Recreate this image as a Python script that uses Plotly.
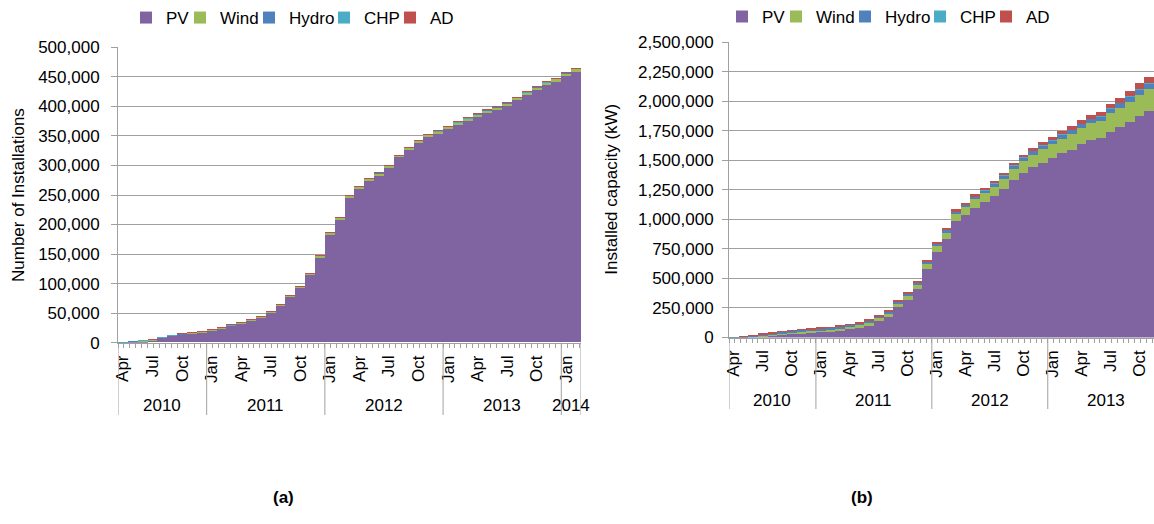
import plotly.graph_objects as go

W, H = 1154, 524

# ---------------- data ----------------
series_names = ["PV", "Wind", "Hydro", "CHP", "AD"]
series_colors = ["#8064A2", "#9BBB59", "#4F81BD", "#4BACC6", "#C0504D"]

# (a) cumulative number of installations, monthly Apr 2010 - Feb 2014
pv_inst = [450, 1200, 2200, 4000, 8000, 10900, 13200, 15400, 17500, 20000,
           23400, 27800, 32000, 36600, 41900, 49800, 62200, 77600, 92500, 114300,
           144100, 183000, 208800, 245600, 260500, 274300, 283200, 296100, 313000, 325900,
           337700, 347600, 353500, 361400, 368300, 375100, 382000, 388900, 393800, 400700,
           409500, 418400, 427300, 435200, 441100, 450400, 457800]
wind_inst = [100, 200, 300, 450, 600, 750, 900, 1000, 1100, 1200,
             1300, 1400, 1500, 1600, 1700, 1800, 1900, 2000, 2100, 2250,
             2400, 2550, 2700, 2850, 3000, 3100, 3200, 3300, 3400, 3500,
             3600, 3700, 3800, 3900, 4000, 4100, 4200, 4300, 4400, 4500,
             4600, 4700, 4800, 4900, 5000, 5100, 5200]
hydro_inst = [30, 50, 70, 90, 110, 130, 150, 160, 170, 180,
              190, 200, 210, 220, 230, 240, 250, 260, 270, 280,
              290, 300, 310, 320, 330, 340, 350, 360, 370, 380,
              390, 400, 410, 420, 430, 440, 450, 460, 470, 480,
              490, 500, 510, 520, 530, 540, 550]
chp_inst = [5, 10, 15, 20, 25, 30, 40, 50, 60, 70,
            80, 90, 100, 110, 120, 130, 140, 150, 160, 170,
            180, 190, 200, 210, 220, 230, 240, 250, 260, 270,
            280, 290, 300, 310, 320, 330, 340, 350, 360, 370,
            380, 390, 400, 410, 420, 430, 440]
ad_inst = [0, 1, 2, 3, 4, 5, 6, 7, 8, 9,
           10, 12, 14, 16, 18, 20, 22, 24, 26, 28,
           30, 33, 36, 39, 42, 45, 48, 51, 54, 57,
           60, 63, 66, 69, 72, 75, 78, 81, 84, 87,
           90, 93, 96, 99, 102, 105, 108]

# (b) cumulative installed capacity (kW), monthly Apr 2010 - Nov 2013
pv_cap = [500, 1500, 5000, 12000, 18000, 25500, 31000, 36500, 40000, 44000,
          48000, 57500, 69500, 82500, 101500, 135500, 172500, 254500, 317500, 409500,
          578000, 725000, 835000, 988000, 1036000, 1098000, 1143000, 1194000, 1256000, 1332000,
          1394000, 1440000, 1480000, 1517000, 1559000, 1590000, 1636000, 1668000, 1684000, 1739000,
          1777000, 1821000, 1874000, 1913000]
wind_cap = [1000, 2000, 5000, 8000, 10000, 12000, 14000, 15000, 16000, 17000,
            18000, 20000, 21000, 22000, 24000, 26000, 28000, 30000, 33000, 36000,
            40000, 46000, 52000, 58000, 64000, 70000, 76000, 82000, 88000, 95000,
            102000, 108000, 113000, 118000, 124000, 130000, 137000, 144000, 150000, 158000,
            166000, 174000, 181000, 188000]
hydro_cap = [500, 2000, 5000, 8000, 10000, 11000, 12000, 13000, 14000, 14500,
             15000, 16000, 16500, 17000, 17500, 18000, 18500, 19000, 19500, 20000,
             21000, 22000, 23000, 24000, 25000, 26000, 27000, 28000, 29000, 30000,
             31000, 32000, 33000, 34000, 35000, 36000, 37000, 38000, 39000, 41000,
             43000, 45000, 47000, 49000]
chp_cap = [0, 0, 0, 5, 10, 15, 20, 25, 30, 35,
           40, 45, 50, 55, 60, 70, 80, 90, 100, 110,
           120, 130, 140, 150, 160, 170, 180, 190, 200, 210,
           220, 230, 240, 250, 260, 270, 280, 290, 300, 310,
           320, 330, 340, 350]
ad_cap = [0, 500, 1000, 2000, 3000, 3500, 4000, 4500, 5000, 5500,
          6000, 6500, 7000, 7500, 8000, 8500, 9000, 9500, 10000, 10500,
          11000, 12000, 13000, 14000, 15000, 16000, 17000, 18000, 19000, 20000,
          21000, 22000, 24000, 26000, 28000, 30000, 32000, 34000, 36000, 39000,
          42000, 45000, 48000, 51000]

quarter_labels_left = ["Apr", "Jul", "Oct", "Jan", "Apr", "Jul", "Oct", "Jan", "Apr", "Jul",
                       "Oct", "Jan", "Apr", "Jul", "Oct", "Jan"]
quarter_labels_right = ["Apr", "Jul", "Oct", "Jan", "Apr", "Jul", "Oct", "Jan", "Apr", "Jul",
                        "Oct", "Jan", "Apr", "Jul", "Oct"]
years_left = ["2010", "2011", "2012", "2013", "2014"]
year_months_left = [9, 12, 12, 12, 2]
years_right = ["2010", "2011", "2012", "2013"]
year_months_right = [9, 12, 12, 12]   # 2013 group is cut at the picture edge

left_series = [pv_inst, wind_inst, hydro_inst, chp_inst, ad_inst]
right_series = [pv_cap, wind_cap, hydro_cap, chp_cap, ad_cap]

# ---------------- helpers ----------------
def fx(p):
    return p / W

def fy(p):
    return 1 - p / H

FONT = "Liberation Sans, Arial, sans-serif"
GRID = "#a0a0a0"
FS = 17
# legend entry widths (px), tuned so the entries sit close together
legend_widths = [9, 24, 30, 21, 26]

fig = go.Figure()

n_left = len(pv_inst)
n_right = len(pv_cap)

for name, vals, col, lw in zip(series_names, left_series, series_colors, legend_widths):
    fig.add_trace(go.Bar(
        x=list(range(len(vals))), y=vals, name=name, width=1,
        marker=dict(color=col, line=dict(width=0)), legendwidth=lw,
        xaxis="x", yaxis="y", legend="legend"))

for name, vals, col, lw in zip(series_names, right_series, series_colors, legend_widths):
    fig.add_trace(go.Bar(
        x=list(range(len(vals))), y=vals, name=name, width=1,
        marker=dict(color=col, line=dict(width=0)), legendwidth=lw,
        xaxis="x2", yaxis="y2", legend="legend2"))

# plot areas (pixels)
L_x0, L_x1, L_top, L_bot = 118, 581, 47.3, 342.7
R_x0, R_x1, R_top, R_bot = 729, 1154, 42.0, 337.5

def xaxis_cfg(x0, x1, n, labels, anchor):
    return dict(
        domain=[fx(x0), fx(x1)], anchor=anchor, automargin=False,
        range=[-0.5, n - 0.5], showgrid=False, zeroline=False,
        showline=True, linecolor=GRID, linewidth=1,
        tickmode="array", tickvals=[3 * i for i in range(len(labels))],
        ticktext=labels, tickangle=-90, ticks="",
        ticklabelstandoff=5,
        tickfont=dict(family=FONT, size=FS, color="#000000"),
        minor=dict(ticks="outside", ticklen=4, tickcolor=GRID, tickwidth=1,
                   tick0=-0.5, dtick=0.6, showgrid=False),
        fixedrange=True)

def yaxis_cfg(top, bot, rmax, step, anchor, standoff):
    return dict(
        domain=[fy(bot), fy(top)], anchor=anchor, automargin=False,
        range=[0, rmax], dtick=step, tick0=0, tickformat=",",
        showgrid=True, gridcolor=GRID, gridwidth=1, zeroline=False,
        showline=True, linecolor=GRID, linewidth=1,
        ticks="outside", ticklen=6, tickcolor=GRID,
        ticklabelstandoff=standoff,
        tickfont=dict(family=FONT, size=FS, color="#000000"),
        fixedrange=True)

legend_common = dict(orientation="h", xanchor="left", yanchor="top",
                     font=dict(family=FONT, size=FS, color="#000000"),
                     itemwidth=30, bgcolor="rgba(0,0,0,0)",
                     traceorder="normal", tracegroupgap=0)

shapes = []
annotations = []

def year_dividers(n_months_list, xref, ytop, ybot, n_total):
    pos = -0.5
    shapes.append(dict(type="line", xref=xref, yref="paper", x0=pos, x1=pos,
                       y0=fy(ytop), y1=fy(ybot), line=dict(color=GRID, width=1)))
    for m in n_months_list:
        pos += m
        if pos <= n_total - 0.5 + 1e-9:
            shapes.append(dict(type="line", xref=xref, yref="paper", x0=pos, x1=pos,
                               y0=fy(ytop), y1=fy(ybot), line=dict(color=GRID, width=1)))

def year_labels(names, n_months_list, xref, ypix):
    start = -0.5
    for nm, m in zip(names, n_months_list):
        annotations.append(dict(text=nm, xref=xref, yref="paper",
                                x=start + m / 2, y=fy(ypix), showarrow=False,
                                xanchor="center", yanchor="middle",
                                font=dict(family=FONT, size=FS, color="#000000")))
        start += m

year_dividers(year_months_left, "x", L_bot, 415, n_left)
year_dividers(year_months_right, "x2", R_bot, 409, n_right)
year_labels(years_left, year_months_left, "x", 405)
year_labels(years_right, year_months_right, "x2", 400)

annotations += [
    dict(text="Number of Installations", xref="paper", yref="paper",
         x=fx(18), y=fy((L_top + L_bot) / 2), textangle=-90, showarrow=False,
         xanchor="center", yanchor="middle",
         font=dict(family=FONT, size=FS, color="#000000")),
    dict(text="Installed capacity (kW)", xref="paper", yref="paper",
         x=fx(612), y=fy((R_top + R_bot) / 2), textangle=-90, showarrow=False,
         xanchor="center", yanchor="middle",
         font=dict(family=FONT, size=FS, color="#000000")),
    dict(text="<b>(a)</b>", xref="paper", yref="paper", x=fx(283), y=fy(497),
         showarrow=False, xanchor="center", yanchor="middle",
         font=dict(family=FONT, size=FS, color="#000000")),
    dict(text="<b>(b)</b>", xref="paper", yref="paper", x=fx(862), y=fy(497),
         showarrow=False, xanchor="center", yanchor="middle",
         font=dict(family=FONT, size=FS, color="#000000")),
]

fig.update_layout(
    width=W, height=H, autosize=False,
    margin=dict(l=0, r=0, t=0, b=0, autoexpand=False),
    paper_bgcolor="white", plot_bgcolor="white",
    barmode="stack", bargap=0,
    font=dict(family=FONT, size=FS, color="#000000"),
    xaxis=xaxis_cfg(L_x0, L_x1, n_left, quarter_labels_left, "y"),
    yaxis=yaxis_cfg(L_top, L_bot, 500000, 50000, "x", 8),
    xaxis2=xaxis_cfg(R_x0, R_x1, n_right, quarter_labels_right, "y2"),
    yaxis2=yaxis_cfg(R_top, R_bot, 2500000, 250000, "x2", 5),
    legend=dict(x=fx(126), y=1.0, **legend_common),
    legend2=dict(x=fx(722), y=1.002, **legend_common),
    shapes=shapes, annotations=annotations,
    hovermode=False,
)

# remove the browser's default page margin so the figure sits at the window origin
fig.write_html("out.html",
               config={"displayModeBar": False},
               post_script="document.body.style.margin='0';document.body.style.overflow='hidden';")
